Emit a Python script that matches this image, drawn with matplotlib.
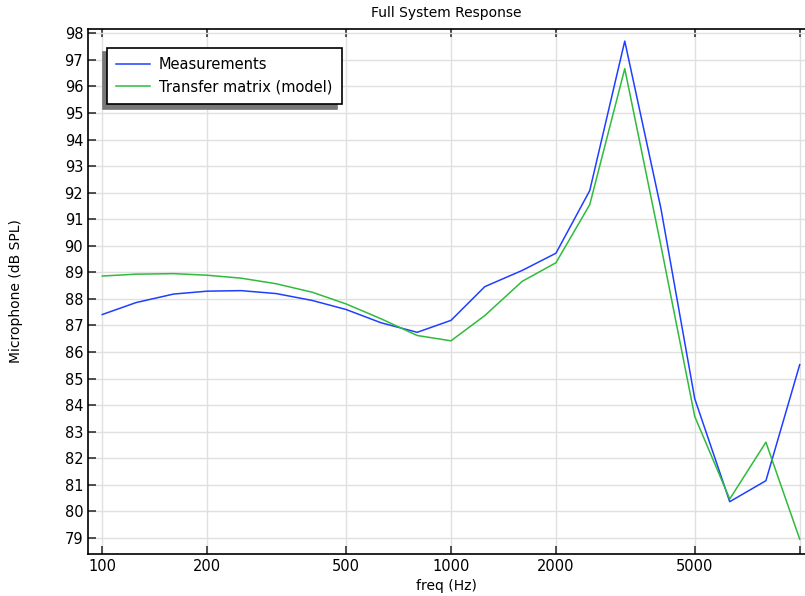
import numpy as np
import matplotlib
matplotlib.use('Agg')
import matplotlib.pyplot as plt
from matplotlib.ticker import FixedLocator, FixedFormatter, NullLocator

# third-octave band centres (Hz)
freq = [100, 125, 160, 200, 250, 315, 400, 500, 630, 800, 1000,
        1250, 1600, 2000, 2500, 3150, 4000, 5000, 6300, 8000, 10000]

measured = [87.41, 87.86, 88.18, 88.29, 88.31, 88.20, 87.94, 87.60, 87.10, 86.74, 87.19,
            88.46, 89.07, 89.72, 92.08, 97.71, 91.40, 84.24, 80.36, 81.15, 85.52]

model = [88.86, 88.93, 88.95, 88.89, 88.78, 88.57, 88.25, 87.81, 87.25, 86.62, 86.42,
         87.37, 88.66, 89.36, 91.55, 96.67, 90.00, 83.57, 80.46, 82.60, 78.95]

xticks = [100, 200, 500, 1000, 2000, 5000, 10000]
xticklabels = ['100', '200', '500', '1000', '2000', '5000', '']
yticks = list(range(79, 99))

fig = plt.figure(figsize=(8.05, 5.96), dpi=100)
ax = fig.add_axes([0.1093, 0.0705, 1 - 0.1093, 0.952 - 0.0705])

ax.plot(freq, measured, color='#1f3fff', lw=1.1, label='Measurements')
ax.plot(freq, model, color='#2fbb3c', lw=1.1, label='Transfer matrix (model)')

ax.set_xscale('log')
ax.set_xlim(91.0, 10356)
ax.set_ylim(78.39, 98.18)

ax.xaxis.set_major_locator(FixedLocator(xticks))
ax.xaxis.set_major_formatter(FixedFormatter(xticklabels))
ax.xaxis.set_minor_locator(NullLocator())
ax.set_yticks(yticks)

ax.grid(True, color='#e0e0e0', lw=1.0)
ax.set_axisbelow(True)
ax.tick_params(direction='in', length=6, width=1.2, labelsize=10.5,
               top=True, bottom=True, left=True, right=False, colors='#333333',
               labelcolor='black')
ax.spines['right'].set_visible(False)
for s in ['left', 'bottom', 'top']:
    ax.spines[s].set_linewidth(1.2)

ax.set_title('Full System Response', fontsize=10, pad=8)
ax.set_xlabel('freq (Hz)', fontsize=10, labelpad=4)
ax.set_ylabel('Microphone (dB SPL)', fontsize=10, labelpad=30)

leg = ax.legend(loc='upper left', fontsize=10.5, fancybox=False, framealpha=1,
                edgecolor='black', borderaxespad=1.3, handlelength=2.3,
                handletextpad=0.6, borderpad=0.65, labelspacing=0.5,
                shadow={'ox': -3, 'oy': -3.5, 'color': '#777777', 'alpha': 1})
leg.get_frame().set_linewidth(1.2)

fig.savefig('out.png', dpi=100)
